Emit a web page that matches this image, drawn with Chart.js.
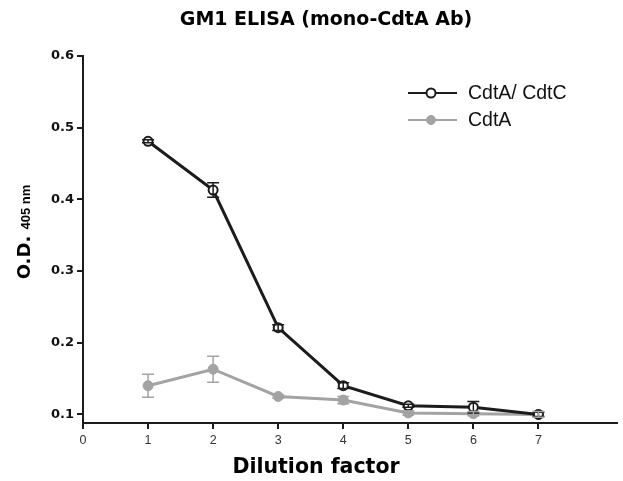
<!DOCTYPE html>
<html>
<head>
<meta charset="utf-8">
<script src="https://cdn.jsdelivr.net/npm/chart.js@4.4.0/dist/chart.umd.min.js"></script>
<style>
  html, body { margin: 0; padding: 0; background: #fff; }
  #wrap { width: 623px; height: 481px; position: relative; }
</style>
</head>
<body>
<div id="wrap"><canvas id="c"></canvas></div>
<script>
const dilution = [1, 2, 3, 4, 5, 6, 7];
const cdtAC = [0.481, 0.413, 0.221, 0.140, 0.112, 0.110, 0.100];
const cdtACErr = [0.002, 0.010, 0.004, 0.004, 0.002, 0.008, 0.003];
const cdtA = [0.140, 0.163, 0.125, 0.120, 0.102, 0.101, 0.100];
const cdtAErr = [0.016, 0.018, 0.002, 0.005, 0.003, 0.003, 0.004];
const xTicks = [0, 1, 2, 3, 4, 5, 6, 7];
const yTicks = [0.1, 0.2, 0.3, 0.4, 0.5, 0.6];

const heavy = '"DejaVu Sans", Arial, sans-serif';
const plain = '"Liberation Sans", Arial, sans-serif';

const errorBars = {
    id: 'errorBars',
    afterDatasetsDraw(chart) {
        const ctx = chart.ctx;
        const x = chart.scales.x, y = chart.scales.y;
        chart.data.datasets.forEach(ds => {
            ctx.save();
            ctx.strokeStyle = ds.borderColor;
            ctx.lineWidth = 1.5;
            ds.data.forEach((p, i) => {
                const e = ds.errors[i];
                const px = x.getPixelForValue(p.x);
                const top = y.getPixelForValue(p.y + e);
                const bot = y.getPixelForValue(p.y - e);
                ctx.beginPath();
                ctx.moveTo(px, top); ctx.lineTo(px, bot);
                ctx.moveTo(px - 6, top); ctx.lineTo(px + 6, top);
                ctx.moveTo(px - 6, bot); ctx.lineTo(px + 6, bot);
                ctx.stroke();
            });
            ctx.restore();
        });
    }
};

const decorations = {
    id: 'decorations',
    afterDraw(chart) {
        const ctx = chart.ctx;
        ctx.save();
        ctx.fillStyle = '#000';
        ctx.textBaseline = 'middle';
        // title
        ctx.textAlign = 'center';
        ctx.font = 'bold 19px ' + heavy;
        ctx.fillText('GM1 ELISA (mono-CdtA Ab)', 326, 20);
        // x title
        ctx.font = 'bold 20.5px ' + heavy;
        ctx.fillText('Dilution factor', 316, 468);
        // y title
        ctx.translate(30, 232);
        ctx.rotate(-Math.PI / 2);
        ctx.textAlign = 'left';
        ctx.textBaseline = 'alphabetic';
        ctx.font = 'bold 18px ' + heavy;
        const big = 'O.D. ';
        const w1 = ctx.measureText(big).width;
        ctx.font = 'bold 13px ' + plain;
        const small = '405 nm';
        const w2 = ctx.measureText(small).width;
        const start = -(w1 + w2) / 2;
        ctx.font = 'bold 18px ' + heavy;
        ctx.fillText(big, start, 0);
        ctx.font = 'bold 13px ' + plain;
        ctx.fillText(small, start + w1, 0);
        ctx.restore();

        // legend
        ctx.save();
        ctx.font = '19.5px ' + plain;
        ctx.textAlign = 'left';
        ctx.textBaseline = 'middle';
        chart.data.datasets.forEach((ds, i) => {
            const ly = 93 + i * 27;
            ctx.strokeStyle = ds.borderColor;
            ctx.lineWidth = 2;
            ctx.beginPath();
            ctx.moveTo(408, ly); ctx.lineTo(457, ly);
            ctx.stroke();
            ctx.beginPath();
            ctx.arc(431, ly, 4.5, 0, Math.PI * 2);
            ctx.fillStyle = ds.pointBackgroundColor;
            ctx.fill();
            ctx.lineWidth = ds.pointBorderWidth;
            ctx.strokeStyle = ds.pointBorderColor;
            ctx.stroke();
            ctx.fillStyle = '#111';
            ctx.fillText(ds.label, 468, ly + 1);
        });
        ctx.restore();
    }
};

new Chart(document.getElementById('c'), {
    type: 'line',
    data: {
        datasets: [
            {
                label: 'CdtA/ CdtC',
                data: dilution.map((d, i) => ({ x: d, y: cdtAC[i] })),
                errors: cdtACErr,
                borderColor: '#1c1c1c',
                borderWidth: 3,
                pointRadius: 4.5,
                pointBackgroundColor: '#fff',
                pointBorderColor: '#1c1c1c',
                pointBorderWidth: 2,
                tension: 0,
                order: 1
            },
            {
                label: 'CdtA',
                data: dilution.map((d, i) => ({ x: d, y: cdtA[i] })),
                errors: cdtAErr,
                borderColor: '#a3a3a3',
                borderWidth: 3,
                pointRadius: 5,
                pointBackgroundColor: '#a3a3a3',
                pointBorderColor: '#a3a3a3',
                pointBorderWidth: 1,
                tension: 0,
                order: 2
            }
        ]
    },
    options: {
        responsive: true,
        maintainAspectRatio: false,
        animation: false,
        layout: { padding: { top: 56, right: 3, left: 0, bottom: 0 } },
        plugins: { legend: { display: false }, tooltip: { enabled: false } },
        scales: {
            x: {
                type: 'linear',
                min: 0,
                max: 8.2,
                afterBuildTicks: s => { s.ticks = xTicks.map(v => ({ value: v })); },
                afterFit: s => { s.height = 58; },
                border: { color: '#1c1c1c', width: 2 },
                grid: { drawOnChartArea: false, tickLength: 6, color: '#1c1c1c', lineWidth: 2 },
                ticks: {
                    color: '#333',
                    font: { family: plain, size: 12.5 },
                    padding: 4,
                    maxRotation: 0
                }
            },
            y: {
                min: 0.088,
                max: 0.6,
                afterBuildTicks: s => { s.ticks = yTicks.map(v => ({ value: v })); },
                afterFit: s => { s.width = 83; },
                border: { color: '#1c1c1c', width: 2 },
                grid: { drawOnChartArea: false, tickLength: 6, color: '#1c1c1c', lineWidth: 2 },
                ticks: {
                    color: '#111',
                    font: { family: heavy, size: 13, weight: 'bold' },
                    padding: 3,
                    callback: v => v.toFixed(1)
                }
            }
        }
    },
    plugins: [errorBars, decorations]
});
</script>
</body>
</html>
